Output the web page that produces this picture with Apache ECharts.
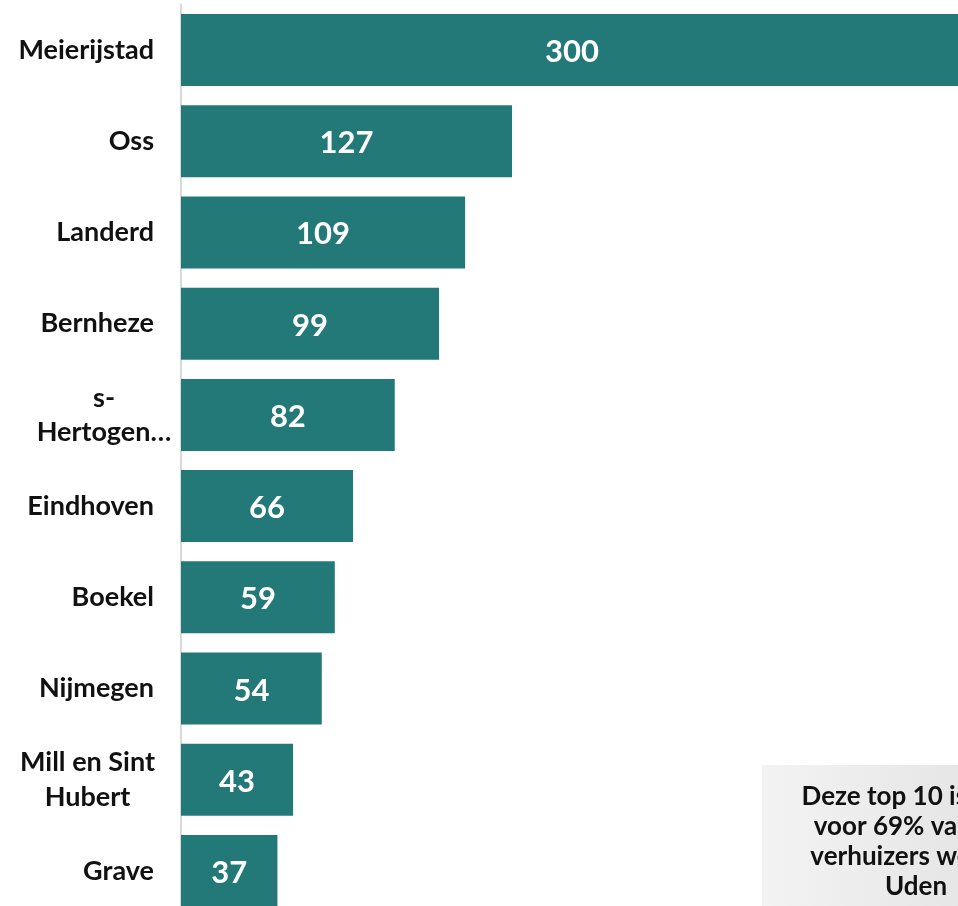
<!DOCTYPE html>
<html><head><meta charset="utf-8">
<script src="https://cdn.jsdelivr.net/npm/echarts@6/dist/echarts.min.js"></script>
<style>html,body{margin:0;padding:0;background:#fff;overflow:hidden;width:958px;height:906px}#c{width:980px;height:930px}</style>
</head><body><div id="c"></div>
<script>
const categories = ['Meierijstad','Oss','Landerd','Bernheze','s-\nHertogen…','Eindhoven','Boekel','Nijmegen','Mill en Sint\nHubert','Grave'];
const values = [300,127,109,99,82,66,59,54,43,37];
const noteLines = ['Deze top 10 is goed','voor 69% van alle','verhuizers weg uit','Uden'];

const FONT = 'Lato';
const LBL = 27;
const chart = echarts.init(document.getElementById('c'), null, {renderer:'canvas'});
chart.setOption({
  animation:false,
  grid:{left:181, top:4.4, width:782, height:912.2, containLabel:false},
  xAxis:{type:'value', min:0, max:300, show:false},
  yAxis:{type:'category', data:categories, inverse:true,
    axisLine:{show:true, lineStyle:{color:'#d9d9d9', width:2}},
    axisTick:{show:false},
    axisLabel:{margin:27, color:'#111', fontFamily:FONT, fontWeight:'bold', fontSize:LBL, lineHeight:35,
      formatter:function(v){
        if(v.indexOf('\n')<0) return v;
        const key = v.indexOf('Hertogen')>=0 ? 'h' : 'm';
        return v.split('\n').map(s=>'{'+key+'|'+s+'}').join('\n');
      },
      rich:{
        h:{width:100, align:'center', color:'#111', fontFamily:FONT, fontWeight:'bold', fontSize:LBL, lineHeight:34},
        m:{width:133, align:'center', color:'#111', fontFamily:FONT, fontWeight:'bold', fontSize:LBL, lineHeight:35}
      }
    }
  },
  series:[{type:'bar', data:values, barWidth:72, itemStyle:{color:'#237878'},
    label:{show:true, position:'inside', color:'#fff', fontFamily:FONT, fontWeight:'bold', fontSize:31, offset:[0,2]}
  }],
  graphic:[{type:'group', children:[
    {type:'rect', shape:{x:762, y:765, width:320, height:170},
      style:{fill:new echarts.graphic.LinearGradient(0,0,1,0,[{offset:0,color:'#f3f3f3'},{offset:1,color:'#dedede'}])}},
    {type:'text', x:916, y:782, style:{text:noteLines.join('\n'), fill:'#111', font:'bold 26px Lato', textAlign:'center', textVerticalAlign:'top', lineHeight:30}}
  ]}]
});
</script></body></html>
